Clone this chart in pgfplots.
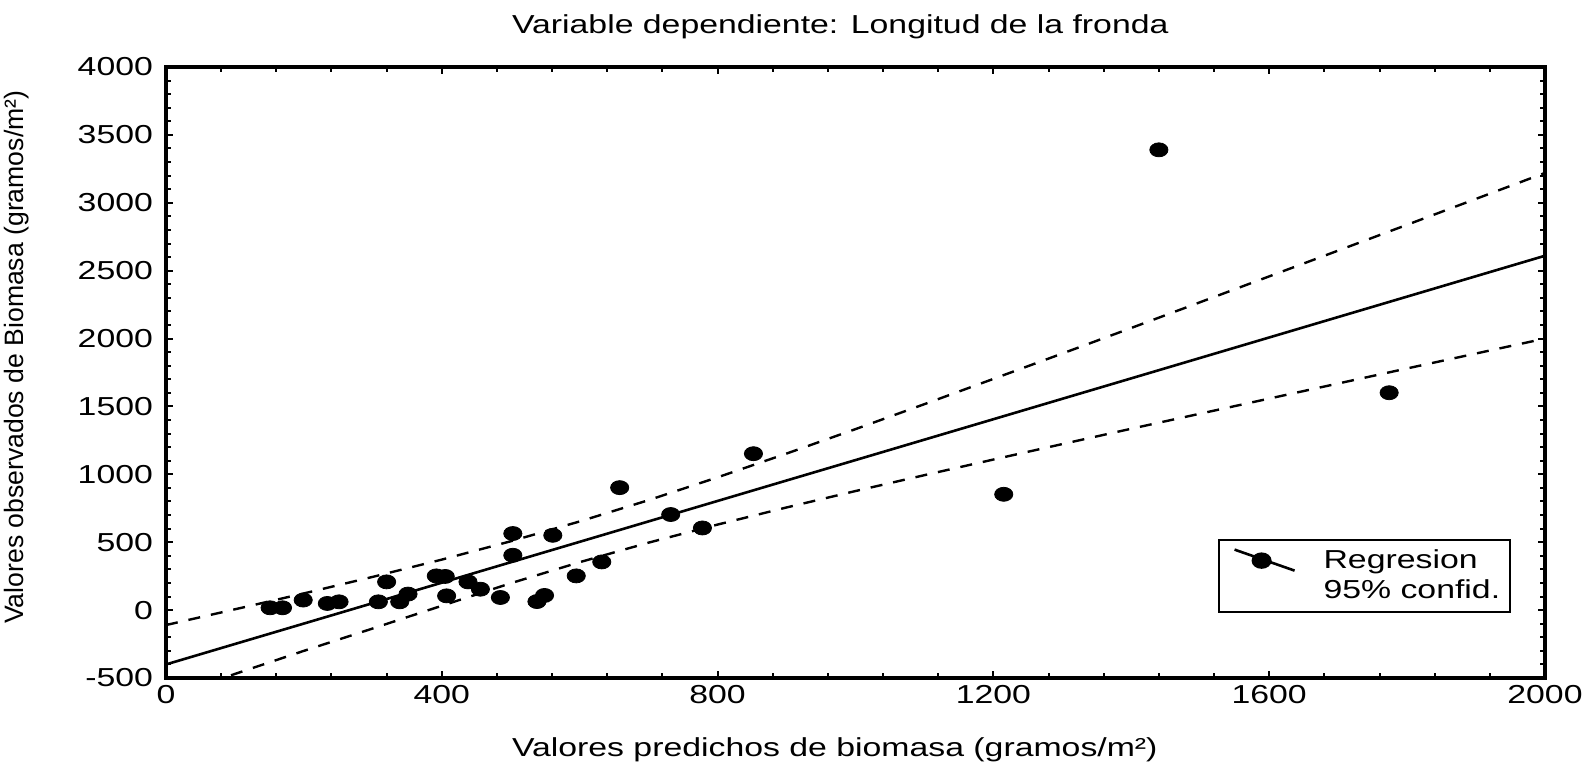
\documentclass[border=0pt]{standalone}
\usepackage{fontspec}
\setmainfont{Liberation Sans}[FakeStretch=1.3]
\newfontfamily\plainfont{Liberation Sans}
\usepackage{pgfplots}
\pgfplotsset{compat=1.18}

% observed vs predicted biomass
\pgfplotstableread{
x y
151 17
169 17
199 74
234 49
251 61
308 61
320 208
339 61
351 118
392 252
405 248
407 105
438 208
456 154
485 93
503 564
503 404
538 63
549 108
561 551
595 252
632 355
658 902
732 704
778 605
852 1152
1215 853
1440 3390
1774 1601
}\obs

% 95% confidence band
\pgfplotstableread{
x up lo
0 -110 -650
100 6 -470
200 123 -300
300 245 -135
400 372 32
500 507 198
600 653 353
700 810 497
800 978 630
900 1153 756
1000 1333 877
1100 1517 994
1200 1703 1109
1300 1890 1223
1400 2078 1336
1500 2268 1447
1600 2458 1558
1700 2648 1669
1800 2838 1780
1900 3029 1890
2000 3220 2000
}\band

\begin{document}
\begin{tikzpicture}
\begin{axis}[name=ax,
  scale only axis, width=689.5pt, height=305.5pt,
  font=\fontsize{13}{15.6}\selectfont,
  xmin=0, xmax=2000, ymin=-500, ymax=4000,
  xtick={0,400,...,2000}, ytick={-500,0,...,4000},
  minor x tick num=4, minor y tick num=4,
  tick align=inside,
  major tick length=3.5pt, minor tick length=2.5pt,
  tick style={black, line width=1pt},
  axis line style={line width=1.6pt},
  /pgf/number format/assume math mode=true,
  /pgf/number format/1000 sep={},
  yticklabel style={xshift=-3pt},
  title={Variable dependiente: Longitud de la fronda},
  title style={at={(axis description cs:0.489,1)}, anchor=base, yshift=11pt},
  xlabel={Valores predichos de biomasa (gramos/m²)},
  xlabel style={at={(axis description cs:0.485,0)}, anchor=base, yshift=-39pt},
  ylabel={\plainfont\fontsize{13.3}{15}\selectfont Valores observados de Biomasa (gramos/m²)},
  ylabel style={at={(axis description cs:-0.108,0.525)}, anchor=center},
  legend style={at={(0.9755,0.228)}, anchor=north east, draw=black,
    line width=1pt, inner xsep=3pt, inner ysep=4pt, row sep=2.3pt,
    nodes={inner ysep=1pt}, cells={anchor=west}},
]
\addplot[black, line width=1.3pt, forget plot] coordinates {(0,-400) (2000,2610)};
\addplot[black, line width=1.2pt, dash pattern=on 6pt off 5.5pt, forget plot] table[x=x, y=up] {\band};
\addplot[black, line width=1.2pt, dash pattern=on 6pt off 5.5pt, forget plot] table[x=x, y=lo] {\band};
\addplot[only marks, mark=*, mark size=3.5pt, mark options={xscale=1.3, black}, forget plot] table[x=x, y=y] {\obs};
\addlegendimage{legend image code/.code={
  \draw[black, line width=1.3pt] (5pt,5.5pt) -- (35pt,-5pt);
  \fill[black] (18.5pt,0pt) ellipse [x radius=4.5pt, y radius=3.6pt];
  \path (47pt,0pt);}}
\addlegendentry{Regresion}
\addlegendimage{empty legend}
\addlegendentry{95\% confid.}
\end{axis}
\pgfresetboundingbox
\path (ax.south west) ++(-83pt,-42pt) rectangle ++(793.5pt,381pt);
\end{tikzpicture}
\end{document}
